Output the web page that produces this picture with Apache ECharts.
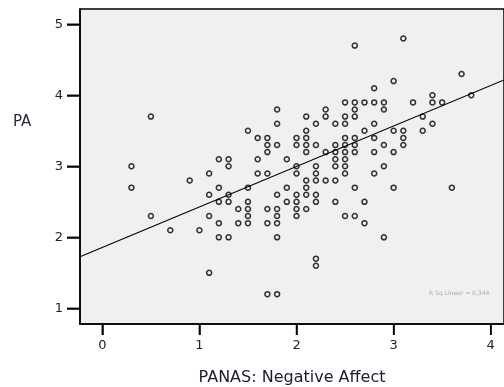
<!DOCTYPE html>
<html>
<head>
<meta charset="utf-8">
<script src="https://cdn.jsdelivr.net/npm/echarts@6/dist/echarts.min.js"></script>
<style>
  html, body { margin: 0; padding: 0; background: #fff; }
  #chart { width: 504px; height: 387px; }
</style>
</head>
<body>
<div id="chart"></div>
<script>
// PANAS negative affect (x) against PA (y), one pair per respondent
const naValues = [
  0.3, 0.3, 0.5, 0.5, 0.7, 0.9, 1.0,
  1.1, 1.1, 1.1, 1.1,
  1.2, 1.2, 1.2, 1.2, 1.2,
  1.3, 1.3, 1.3, 1.3, 1.3,
  1.4, 1.4,
  1.5, 1.5, 1.5, 1.5, 1.5, 1.5,
  1.6, 1.6, 1.6,
  1.7, 1.7, 1.7, 1.7, 1.7, 1.7, 1.7,
  1.8, 1.8, 1.8, 1.8, 1.8, 1.8, 1.8, 1.8, 1.8,
  1.9, 1.9, 1.9,
  2.0, 2.0, 2.0, 2.0, 2.0, 2.0, 2.0, 2.0,
  2.1, 2.1, 2.1, 2.1, 2.1, 2.1, 2.1, 2.1, 2.1,
  2.2, 2.2, 2.2, 2.2, 2.2, 2.2, 2.2, 2.2, 2.2,
  2.3, 2.3, 2.3, 2.3,
  2.4, 2.4, 2.4, 2.4, 2.4, 2.4, 2.4,
  2.5, 2.5, 2.5, 2.5, 2.5, 2.5, 2.5, 2.5, 2.5, 2.5,
  2.6, 2.6, 2.6, 2.6, 2.6, 2.6, 2.6, 2.6, 2.6,
  2.7, 2.7, 2.7, 2.7,
  2.8, 2.8, 2.8, 2.8, 2.8, 2.8,
  2.9, 2.9, 2.9, 2.9, 2.9,
  3.0, 3.0, 3.0, 3.0,
  3.1, 3.1, 3.1, 3.1,
  3.2,
  3.3, 3.3,
  3.4, 3.4, 3.4,
  3.5, 3.6, 3.7, 3.8
];
const paValues = [
  3.0, 2.7, 3.7, 2.3, 2.1, 2.8, 2.1,
  2.9, 2.6, 2.3, 1.5,
  3.1, 2.7, 2.5, 2.2, 2.0,
  3.1, 3.0, 2.6, 2.5, 2.0,
  2.4, 2.2,
  3.5, 2.7, 2.5, 2.4, 2.3, 2.2,
  3.4, 3.1, 2.9,
  3.4, 3.3, 3.2, 2.9, 2.4, 2.2, 1.2,
  3.8, 3.6, 3.3, 2.6, 2.4, 2.3, 2.2, 2.0, 1.2,
  3.1, 2.7, 2.5,
  3.4, 3.3, 3.0, 2.9, 2.6, 2.5, 2.4, 2.3,
  3.7, 3.5, 3.4, 3.3, 3.2, 2.8, 2.7, 2.6, 2.4,
  3.6, 3.3, 3.0, 2.9, 2.8, 2.6, 2.5, 1.7, 1.6,
  3.8, 3.7, 3.2, 2.8,
  3.6, 3.3, 3.2, 3.1, 3.0, 2.8, 2.5,
  3.9, 3.7, 3.6, 3.4, 3.3, 3.2, 3.1, 3.0, 2.9, 2.3,
  4.7, 3.9, 3.8, 3.7, 3.4, 3.3, 3.2, 2.7, 2.3,
  3.9, 3.5, 2.5, 2.2,
  4.1, 3.9, 3.6, 3.4, 3.2, 2.9,
  3.9, 3.8, 3.3, 3.0, 2.0,
  4.2, 3.5, 3.2, 2.7,
  4.8, 3.5, 3.4, 3.3,
  3.9,
  3.7, 3.5,
  4.0, 3.9, 3.6,
  3.9, 2.7, 4.3, 4.0
];

// linear fit as drawn in the figure
const fitIntercept = 1.858;
const fitSlope = 0.57;
const rSqLabel = 'R Sq Linear = 0,344';

const xTicks = [0, 1, 2, 3, 4];
const yTicks = [1, 2, 3, 4, 5];
const xMin = -0.23, xMax = 4.137;
const yMin = 0.78, yMax = 5.215;

const points = naValues.map((x, i) => [x, paValues[i]]);
const fitLine = [
  [xMin, fitIntercept + fitSlope * xMin],
  [xMax, fitIntercept + fitSlope * xMax]
];

const chart = echarts.init(document.getElementById('chart'));

const option = {
  animation: false,
  grid: {
    left: 80,
    top: 9,
    width: 424,
    height: 315,
    outerBoundsMode: 'none',
    containLabel: false,
    show: true,
    backgroundColor: '#f0f0f0',
    borderColor: '#000',
    borderWidth: 1.5
  },
  xAxis: {
    type: 'value',
    min: xMin,
    max: xMax,
    name: 'PANAS: Negative Affect',
    nameLocation: 'middle',
    nameGap: 46,
    nameTextStyle: { fontFamily: 'DejaVu Sans', fontSize: 16, color: '#1c1c2c' },
    axisLine: { show: true, onZero: false, lineStyle: { color: '#000', width: 1.5 } },
    splitLine: { show: false },
    axisTick: {
      show: true,
      customValues: xTicks,
      length: 11,
      lineStyle: { color: '#000', width: 1.5 }
    },
    axisLabel: {
      customValues: xTicks,
      margin: 15,
      fontFamily: 'DejaVu Sans',
      fontSize: 13,
      color: '#222'
    }
  },
  yAxis: {
    type: 'value',
    min: yMin,
    max: yMax,
    axisLine: { show: true, onZero: false, lineStyle: { color: '#000', width: 1.5 } },
    splitLine: { show: false },
    axisTick: {
      show: true,
      customValues: yTicks,
      length: 13,
      lineStyle: { color: '#000', width: 1.5 }
    },
    axisLabel: {
      customValues: yTicks,
      margin: 17,
      fontFamily: 'DejaVu Sans',
      fontSize: 13,
      color: '#222'
    }
  },
  series: [
    {
      type: 'scatter',
      data: points,
      symbol: 'circle',
      symbolSize: 5,
      itemStyle: {
        color: 'rgba(0,0,0,0)',
        borderColor: '#000',
        borderWidth: 1.5
      },
      z: 2
    },
    {
      type: 'line',
      data: fitLine,
      symbol: 'none',
      lineStyle: { color: '#000', width: 1.2 },
      z: 3
    }
  ]
};

chart.setOption(option);

// tick marks placed through the chart's own scales
const tickStyle = { stroke: '#000', lineWidth: 1.5 };
const tickMarks = [];
xTicks.forEach(v => {
  const [px, py] = chart.convertToPixel({ xAxisIndex: 0, yAxisIndex: 0 }, [v, yMin]);
  tickMarks.push({ type: 'line', shape: { x1: px, y1: py, x2: px, y2: py + 11 }, style: tickStyle });
});
yTicks.forEach(v => {
  const [px, py] = chart.convertToPixel({ xAxisIndex: 0, yAxisIndex: 0 }, [xMin, v]);
  tickMarks.push({ type: 'line', shape: { x1: px - 13, y1: py, x2: px, y2: py }, style: tickStyle });
});

chart.setOption({
  graphic: [
    {
      type: 'text',
      left: 13,
      top: 115,
      style: { text: 'PA', font: '15px "DejaVu Sans"', fill: '#2a2a3a' }
    },
    {
      type: 'text',
      left: 429,
      top: 290,
      style: { text: rSqLabel, font: '6px "DejaVu Sans"', fill: '#aaa' }
    }
  ].concat(tickMarks)
});
</script>
</body>
</html>
